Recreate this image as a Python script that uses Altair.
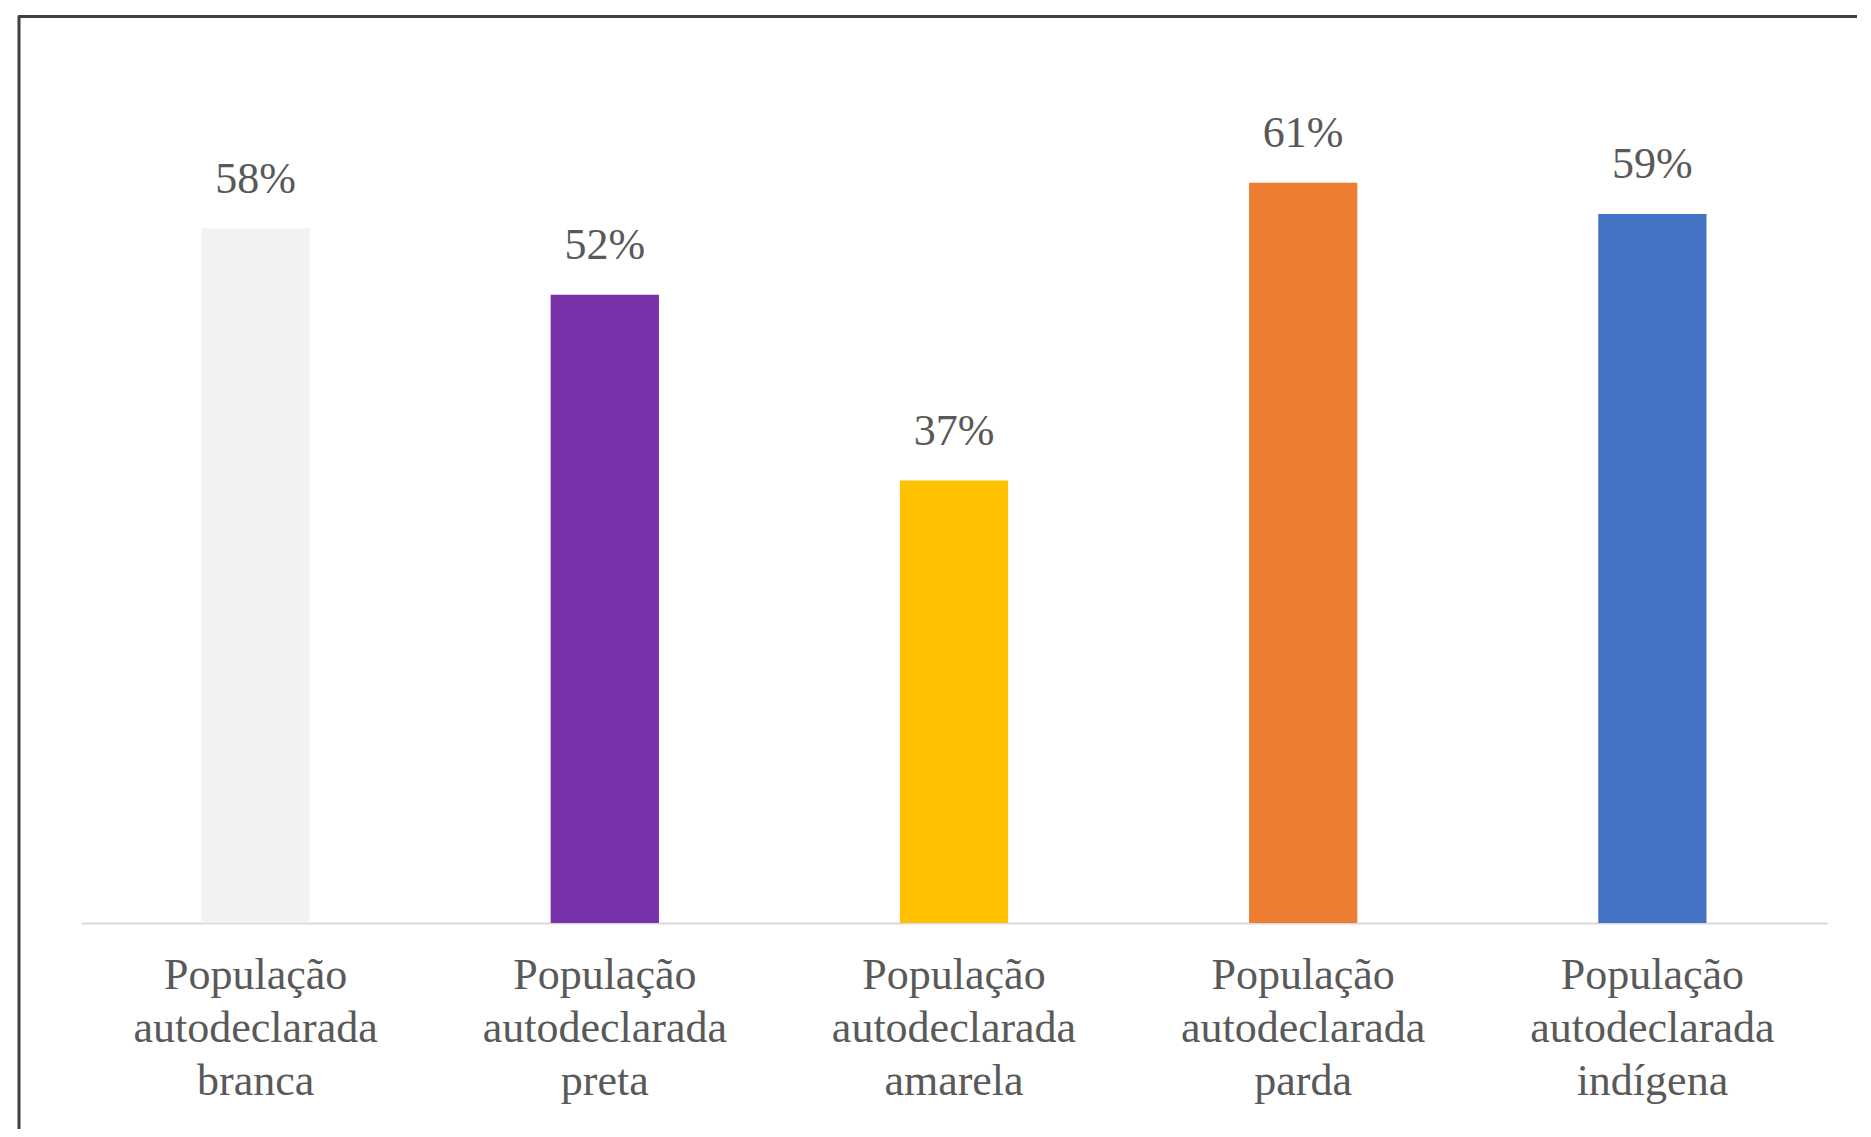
import altair as alt
import pandas as pd

categories = [
    "População autodeclarada branca",
    "População autodeclarada preta",
    "População autodeclarada amarela",
    "População autodeclarada parda",
    "População autodeclarada indígena",
]
values = [57.6, 52.1, 36.7, 61.4, 58.8]
labels = ["58%", "52%", "37%", "61%", "59%"]
colors = ["#f2f2f2", "#7831a8", "#ffc000", "#ed7d31", "#4472c4"]

df = pd.DataFrame({"cat": categories, "value": values, "label": labels, "color": colors})

TEXT_COLOR = "#595959"
SERIF = "Liberation Serif"

x_enc = alt.X(
    "cat:N",
    sort=categories,
    scale=alt.Scale(paddingInner=0.69, paddingOuter=0.345),
    axis=alt.Axis(
        title=None,
        labelAngle=0,
        ticks=False,
        grid=False,
        domainColor="#d9d9d9",
        domainWidth=2,
        labelFont=SERIF,
        labelFontSize=44,
        labelLineHeight=53,
        labelColor=TEXT_COLOR,
        labelPadding=30,
        labelLimit=0,
        labelExpr="split(datum.label, ' ')",
    ),
)
y_enc = alt.Y("value:Q", scale=alt.Scale(domain=[0, 70]), axis=None)

bars = alt.Chart(df).mark_bar().encode(
    x=x_enc, y=y_enc, color=alt.Color("color:N", scale=None)
)

text = alt.Chart(df).mark_text(
    baseline="alphabetic", dy=-36, font=SERIF, fontSize=44, color=TEXT_COLOR
).encode(x=alt.X("cat:N", sort=categories), y=y_enc, text="label:N")

one = pd.DataFrame({"a": [0]})
frame_left = alt.Chart(one).mark_rule(color="#404040", strokeWidth=3).encode(
    x=alt.value(-62), y=alt.value(-63), y2=alt.value(1100)
)
frame_top = alt.Chart(one).mark_rule(color="#404040", strokeWidth=3).encode(
    x=alt.value(-63), x2=alt.value(1900), y=alt.value(-62.5)
)

chart = (
    alt.layer(frame_left, frame_top, bars, text)
    .properties(
        width=1746,
        height=844,
        background="white",
        autosize=alt.AutoSizeParams(type="none"),
        padding={"left": 73, "top": 71, "right": 30, "bottom": 206},
    )
    .configure_view(strokeWidth=0, stroke="transparent")
)

chart.save("out.html", embed_options={"renderer": "svg", "actions": False})
